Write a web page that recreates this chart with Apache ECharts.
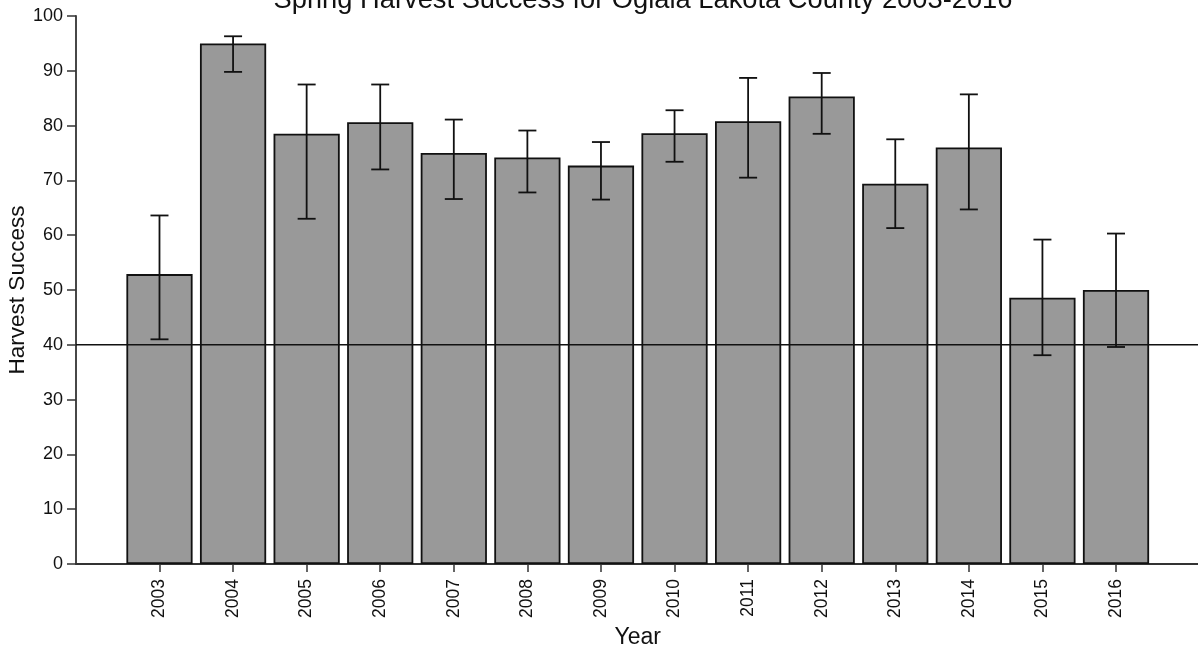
<!DOCTYPE html>
<html>
<head>
<meta charset="utf-8">
<script src="https://cdn.jsdelivr.net/npm/echarts@6/dist/echarts.min.js"></script>
<style>
  html, body { margin: 0; padding: 0; background: #fff; }
  #chart { width: 1198px; height: 649px; }
</style>
</head>
<body>
<div id="chart"></div>
<script>
// dados
const years = ["2003", "2004", "2005", "2006", "2007", "2008", "2009",
  "2010", "2011", "2012", "2013", "2014", "2015", "2016"];
const success = [52.9, 95.0, 78.5, 80.6, 75.0, 74.2, 72.7, 78.6, 80.8, 85.3, 69.4, 76.0, 48.6, 50.0];
const errLow = [41.0, 89.8, 63.0, 72.0, 66.6, 67.8, 66.5, 73.4, 70.5, 78.5, 61.3, 64.7, 38.1, 39.6];
const errHigh = [63.6, 96.3, 87.5, 87.5, 81.1, 79.1, 77.0, 82.8, 88.7, 89.6, 77.5, 85.7, 59.2, 60.3];
const refLevel = 40;

const font = "Liberation Sans, Arial, sans-serif";
const axisColor = "#333";

let errData = years.map((y, i) => [i, errLow[i], errHigh[i]]);

let series = [];

series.push({
  name: "Harvest Success",
  type: "bar",
  xAxisIndex: 1,
  yAxisIndex: 1,
  barCategoryGap: "10%",
  itemStyle: { color: "#999999", borderColor: "#111", borderWidth: 1.8 },
  data: success,
  z: 2,
});

// barras de erro
series.push({
  name: "Error",
  type: "custom",
  xAxisIndex: 1,
  yAxisIndex: 1,
  z: 3,
  data: errData,
  renderItem: function (params, api) {
    let lo = api.coord([api.value(0), api.value(1)]);
    let hi = api.coord([api.value(0), api.value(2)]);
    let cap = 9;
    let style = { stroke: "#111", lineWidth: 1.8 };
    return {
      type: "group",
      children: [
        { type: "line", shape: { x1: lo[0], y1: lo[1], x2: hi[0], y2: hi[1] }, style },
        { type: "line", shape: { x1: lo[0] - cap, y1: lo[1], x2: lo[0] + cap, y2: lo[1] }, style },
        { type: "line", shape: { x1: hi[0] - cap, y1: hi[1], x2: hi[0] + cap, y2: hi[1] }, style },
      ],
    };
  },
});

// linha de referência (40)
series.push({
  name: "Ref",
  type: "line",
  xAxisIndex: 0,
  yAxisIndex: 0,
  symbol: "none",
  silent: true,
  z: 4,
  lineStyle: { color: "#111", width: 1.5 },
  data: [[0, refLevel], [1, refLevel]],
});

let options = {
  animation: false,
  title: {
    text: "Spring Harvest Success for Oglala Lakota County 2003-2016",
    left: 638,
    textAlign: "center",
    top: -18,
    textStyle: { fontFamily: font, fontSize: 27.3, fontWeight: "normal", color: "#111" },
  },
  grid: [
    { left: 76, right: 0, top: 16, bottom: 85, outerBoundsMode: "none" },
    { left: 122.7, right: 45.2, top: 16, bottom: 85, outerBoundsMode: "none" },
  ],
  xAxis: [
    {
      gridIndex: 0,
      type: "value",
      min: 0,
      max: 1,
      axisLine: { show: true, onZero: false, lineStyle: { color: axisColor, width: 1.8 } },
      axisTick: { show: false },
      axisLabel: { show: false },
      splitLine: { show: false },
    },
    {
      gridIndex: 1,
      type: "category",
      data: years,
      name: "Year",
      nameLocation: "middle",
      nameGap: 57,
      nameTextStyle: { fontFamily: font, fontSize: 23, color: "#111" },
      axisLine: { show: false },
      axisTick: { show: true, alignWithLabel: true, length: 8, lineStyle: { color: axisColor, width: 1.5 } },
      axisLabel: { rotate: 90, fontFamily: font, fontSize: 17.5, color: "#111", margin: 15 },
      splitLine: { show: false },
    },
  ],
  yAxis: [
    {
      gridIndex: 0,
      type: "value",
      min: 0,
      max: 100,
      interval: 10,
      name: "Harvest Success",
      nameLocation: "middle",
      nameMoveOverlap: false,
      nameGap: 47,
      nameTextStyle: { fontFamily: font, fontSize: 22.5, color: "#111" },
      axisLine: { show: true, lineStyle: { color: axisColor, width: 1.8 } },
      axisTick: { show: true, length: 9, lineStyle: { color: axisColor, width: 1.5 } },
      axisLabel: { fontFamily: font, fontSize: 18, color: "#111", margin: 13 },
      splitLine: { show: false },
    },
    {
      gridIndex: 1,
      type: "value",
      min: 0,
      max: 100,
      show: false,
    },
  ],
  series,
};

var chart = echarts.init(document.getElementById("chart"));
chart.setOption(options);
window.addEventListener("resize", function () {
  chart.resize();
});
</script>
</body>
</html>
